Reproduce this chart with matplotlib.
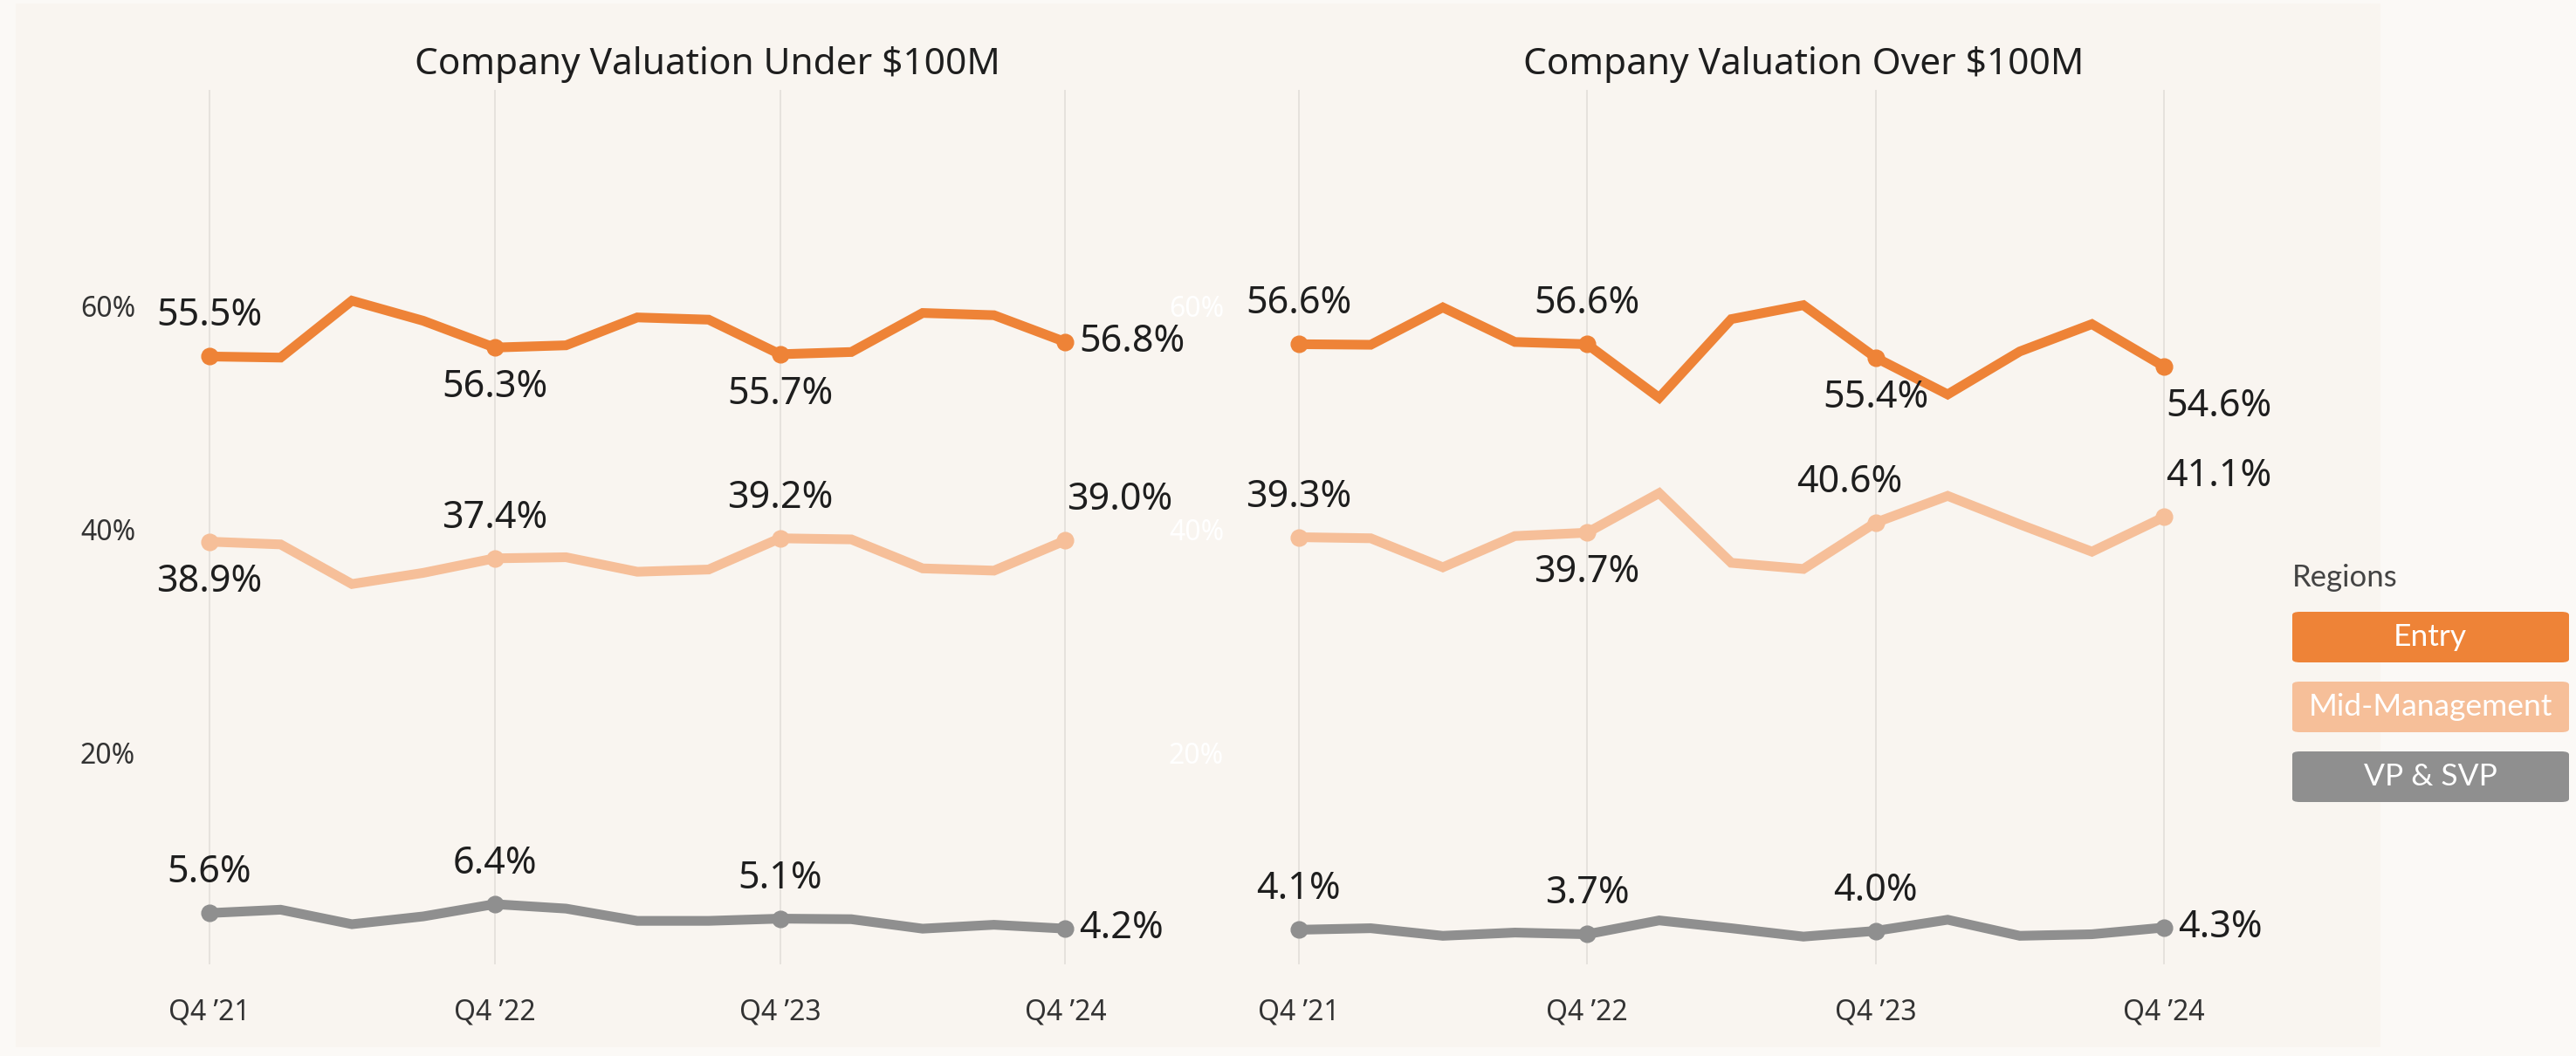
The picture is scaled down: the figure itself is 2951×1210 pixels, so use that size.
import matplotlib
matplotlib.use("Agg")
import matplotlib.pyplot as plt
from matplotlib.patches import FancyBboxPatch, Rectangle

# quarterly share of job postings by level, Q4 '21 .. Q4 '24
QUARTERS = list(range(13))
XTICK_POS = [0, 4, 8, 12]
XTICK_LABELS = ["Q4 \u201921", "Q4 \u201922", "Q4 \u201923", "Q4 \u201924"]
LEVELS = ["Entry", "Mid-Management", "VP & SVP"]
COLORS = ["#EE8337", "#F6BF99", "#8F8F8F"]

under_entry = [55.5, 55.4, 60.5, 58.7, 56.3, 56.5, 59.0, 58.8, 55.7, 55.9, 59.4, 59.2, 56.8]
under_mid = [38.9, 38.65, 35.1, 36.1, 37.4, 37.5, 36.2, 36.4, 39.2, 39.1, 36.5, 36.3, 39.0]
under_vp = [5.6, 5.9, 4.6, 5.3, 6.4, 6.0, 4.9, 4.9, 5.1, 5.05, 4.2, 4.55, 4.2]

over_entry = [56.6, 56.55, 59.9, 56.8, 56.6, 51.8, 58.85, 60.1, 55.4, 52.1, 55.95, 58.4, 54.6]
over_mid = [39.3, 39.2, 36.6, 39.4, 39.7, 43.25, 37.0, 36.45, 40.6, 43.0, 40.45, 38.0, 41.1]
over_vp = [4.1, 4.24, 3.56, 3.85, 3.7, 4.94, 4.24, 3.49, 4.0, 5.0, 3.56, 3.7, 4.3]

# label placement at the yearly points: a=above, b=below, r=right, ar/br=above/below left-aligned
under_pos = [["a", "b", "b", "r"], ["b", "a", "a", "ar"], ["a", "a", "a", "r"]]
over_pos = [["a", "a", "b", "br"], ["a", "b", "a", "ar"], ["a", "a", "a", "r"]]

W, H = 2951, 1210
BG = "#F9F5F0"
FONT = ["Noto Sans", "DejaVu Sans"]
LEG_FONT = ["Lato", "DejaVu Sans"]


def fx(px):
    return px / W


def fy(py):
    return 1 - py / H


def draw_panel(ax, series, positions, title_x, title, shift=None, ytick_color="#333333"):
    ax.set_facecolor("none")
    for s in ax.spines.values():
        s.set_visible(False)
    for x in XTICK_POS:
        ax.axvline(x, color="#E4E0DB", lw=1.3, zorder=0)
    for vals, col, pos in zip(series, COLORS, positions):
        ax.plot(QUARTERS, vals, color=col, lw=8, solid_joinstyle="miter", zorder=2)
        ax.plot(XTICK_POS, [vals[i] for i in XTICK_POS], "o", color=col, ms=13.5, zorder=3)
        for k, i in enumerate(XTICK_POS):
            p = pos[k]
            dx = (shift or {}).get((col, i), 0)
            if p == "a":
                off, ha = (dx, 46), "center"
            elif p == "b":
                off, ha = (dx, -46), "center"
            elif p == "r":
                off, ha = (16, 0), "left"
            elif p == "ar":
                off, ha = (2, 46), "left"
            else:
                off, ha = (2, -46), "left"
            ax.annotate(f"{vals[i]:.1f}%", (i, vals[i]), xytext=off, textcoords="offset pixels",
                        ha=ha, va="center", fontsize=31, color="#1E1E1E", family=FONT, zorder=4)
    ax.set_xlim(-1, 13.5)
    ax.set_ylim(1.0, 79.4)
    ax.set_xticks(XTICK_POS)
    ax.set_xticklabels(XTICK_LABELS, family=FONT, fontsize=23, color="#333333")
    ax.set_yticks([20, 40, 60])
    ax.set_yticklabels(["20%", "40%", "60%"], family=FONT, fontsize=23, color=ytick_color)
    ax.tick_params(length=0, axis="x", pad=28)
    ax.tick_params(length=0, axis="y", pad=2)
    ax.figure.text(fx(title_x), fy(74), title, ha="center", va="center",
                   fontsize=30.5, color="#1E1E1E", family=FONT)


fig = plt.figure(figsize=(W / 100, H / 100), dpi=100)
fig.patch.set_facecolor("#FBF9F6")
fig.add_artist(Rectangle((fx(18), fy(1200)), fx(2727 - 18), (1200 - 4) / H,
                         transform=fig.transFigure, facecolor=BG, edgecolor="none", zorder=0))

axL = fig.add_axes([fx(158), fy(1105), fx(1185), (1105 - 103) / H])
axR = fig.add_axes([fx(1405), fy(1105), fx(1198), (1105 - 103) / H])

draw_panel(axL, [under_entry, under_mid, under_vp], under_pos, 810,
           "Company Valuation Under $100M")
draw_panel(axR, [over_entry, over_mid, over_vp], over_pos, 2066,
           "Company Valuation Over $100M",
           shift={(COLORS[1], 8): -30}, ytick_color="#FFFFFF")

# legend
fig.text(fx(2626), fy(662), "Regions", ha="left", va="center", fontsize=25,
         color="#444444", family=LEG_FONT)
for k, (name, col) in enumerate(zip(LEVELS, COLORS)):
    top = 701 + k * 80
    box = FancyBboxPatch((fx(2626), fy(top + 58)), fx(317), 58 / H,
                         boxstyle="round,pad=0,rounding_size=0.003",
                         transform=fig.transFigure, facecolor=col, edgecolor="none")
    fig.add_artist(box)
    fig.text(fx(2784), fy(top + 29), name, ha="center", va="center", fontsize=25.5,
             color="white", family=LEG_FONT)

fig.savefig("out.png", dpi=100, facecolor=fig.get_facecolor())
